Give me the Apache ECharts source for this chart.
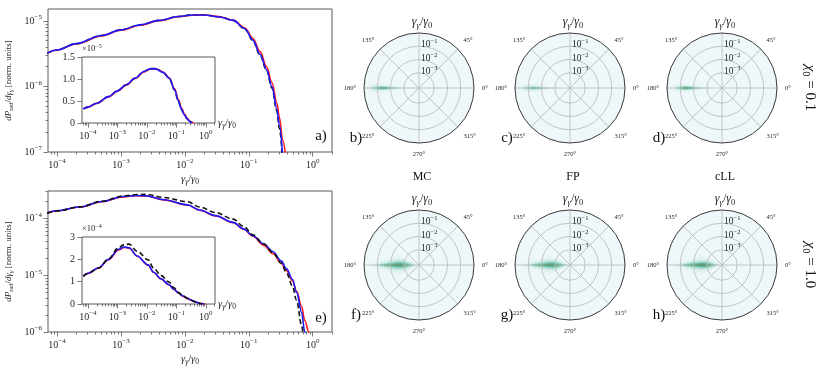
<!DOCTYPE html>
<html>
<head>
<meta charset="utf-8">
<script src="https://cdn.jsdelivr.net/npm/echarts@6/dist/echarts.min.js"></script>
<style>
  html, body { margin: 0; padding: 0; background: #fff; }
  #chart { width: 830px; height: 374px; }
</style>
</head>
<body>
<div id="chart"></div>
<script>
// ---- spectra (x = γγ/γ0) ----
const topX = [7e-5, 1e-4, 2e-4, 5e-4, 1e-3, 2e-3, 4e-3, 8e-3, 0.013, 0.02, 0.035, 0.057, 0.087, 0.116, 0.15, 0.19, 0.23, 0.275, 0.30, 0.34, 0.38];
const topBlack = [3.2e-6, 3.6e-6, 4.5e-6, 6.0e-6, 7.3e-6, 8.7e-6, 1.02e-5, 1.17e-5, 1.24e-5, 1.24e-5, 1.16e-5, 1.02e-5, 7.5e-6, 5.0e-6, 3.0e-6, 1.75e-6, 9.5e-7, 4.2e-7, 2.3e-7, 7e-8, null];
const topRed   = [3.2e-6, 3.6e-6, 4.45e-6, 5.9e-6, 7.2e-6, 8.6e-6, 1.01e-5, 1.16e-5, 1.22e-5, 1.23e-5, 1.16e-5, 1.03e-5, 7.8e-6, 5.4e-6, 3.4e-6, 2.0e-6, 1.15e-6, 5.6e-7, 3.4e-7, 1.5e-7, 8e-8];
const topBlue  = [3.2e-6, 3.6e-6, 4.5e-6, 6.0e-6, 7.3e-6, 8.7e-6, 1.02e-5, 1.17e-5, 1.23e-5, 1.23e-5, 1.15e-5, 1.02e-5, 7.6e-6, 5.1e-6, 3.1e-6, 1.8e-6, 1.0e-6, 4.5e-7, 2.6e-7, 8e-8, null];

const botX = [7e-5, 1e-4, 2.3e-4, 5e-4, 1.1e-3, 1.7e-3, 2.5e-3, 4.7e-3, 1.1e-2, 1.7e-2, 3e-2, 5.7e-2, 8.3e-2, 0.116, 0.17, 0.24, 0.32, 0.39, 0.48, 0.56, 0.67, 0.75, 0.87, 0.95];
const botBlack = [1.24e-4, 1.37e-4, 1.61e-4, 2.02e-4, 2.52e-4, 2.66e-4, 2.68e-4, 2.36e-4, 1.98e-4, 1.6e-4, 1.28e-4, 9.8e-5, 7.3e-5, 5.2e-5, 3.6e-5, 2.5e-5, 1.65e-5, 1.1e-5, 6.5e-6, 3.6e-6, 1.3e-6, 4e-7, null, null];
const botRed   = [1.25e-4, 1.37e-4, 1.6e-4, 1.98e-4, 2.42e-4, 2.53e-4, 2.5e-4, 2.14e-4, 1.74e-4, 1.41e-4, 1.12e-4, 8.5e-5, 6.5e-5, 4.9e-5, 3.4e-5, 2.4e-5, 1.65e-5, 1.2e-5, 8.0e-6, 5.2e-6, 2.8e-6, 1.6e-6, 1.0e-6, 5e-7];
const botBlue  = [1.26e-4, 1.38e-4, 1.62e-4, 2.0e-4, 2.45e-4, 2.55e-4, 2.52e-4, 2.15e-4, 1.75e-4, 1.42e-4, 1.13e-4, 8.6e-5, 6.6e-5, 5.0e-5, 3.6e-5, 2.6e-5, 1.8e-5, 1.3e-5, 8.5e-6, 5.0e-6, 2.2e-6, 1.0e-6, 4e-7, null];

// inset y scale factors (×10^-5, ×10^-4)
const topInsetExp = -5;
const botInsetExp = -4;

// ---- angular distributions: density per (energy bin, |angle offset| bin) ----
const energyEdges = [-4, -3.75, -3.5, -3.25, -3, -2.75, -2.5, -2.25, -2, -1.75, -1.5, -1.25, -1, -0.75, -0.5, -0.25, 0]; // log10(γγ/γ0)
const angleEdges = [0, 1.5, 3.5, 6.5, 10.5, 16, 24]; // degrees away from the beam direction
const beamAngle = 180;

const heatB = [
  [0, 0, 0, 0, 0, 0], [0, 0, 0, 0, 0, 0], [0.03, 0, 0, 0, 0, 0], [0.08, 0.02, 0, 0, 0, 0],
  [0.15, 0.04, 0, 0, 0, 0], [0.27, 0.08, 0, 0, 0, 0], [0.42, 0.13, 0.02, 0, 0, 0], [0.55, 0.2, 0.03, 0, 0, 0],
  [0.65, 0.27, 0.04, 0, 0, 0], [0.72, 0.32, 0.05, 0, 0, 0], [0.72, 0.34, 0.05, 0, 0, 0], [0.62, 0.3, 0.05, 0, 0, 0],
  [0.42, 0.22, 0.03, 0, 0, 0], [0.2, 0.1, 0.02, 0, 0, 0], [0.05, 0.03, 0, 0, 0, 0], [0, 0, 0, 0, 0, 0]
];
const heatC = [
  [0, 0, 0, 0, 0, 0], [0, 0, 0, 0, 0, 0], [0.02, 0, 0, 0, 0, 0], [0.05, 0.01, 0, 0, 0, 0],
  [0.1, 0.03, 0, 0, 0, 0], [0.19, 0.05, 0, 0, 0, 0], [0.3, 0.09, 0, 0, 0, 0], [0.41, 0.15, 0.02, 0, 0, 0],
  [0.5, 0.2, 0.03, 0, 0, 0], [0.55, 0.25, 0.04, 0, 0, 0], [0.55, 0.26, 0.04, 0, 0, 0], [0.48, 0.22, 0.03, 0, 0, 0],
  [0.34, 0.16, 0.02, 0, 0, 0], [0.17, 0.08, 0.01, 0, 0, 0], [0.05, 0.02, 0, 0, 0, 0], [0, 0, 0, 0, 0, 0]
];
const heatD = [
  [0, 0, 0, 0, 0, 0], [0, 0, 0, 0, 0, 0], [0, 0, 0, 0, 0, 0], [0.03, 0, 0, 0, 0, 0],
  [0.09, 0.02, 0, 0, 0, 0], [0.22, 0.06, 0, 0, 0, 0], [0.4, 0.13, 0.02, 0, 0, 0], [0.58, 0.21, 0.03, 0, 0, 0],
  [0.72, 0.29, 0.04, 0, 0, 0], [0.8, 0.35, 0.05, 0, 0, 0], [0.8, 0.36, 0.05, 0, 0, 0], [0.66, 0.3, 0.04, 0, 0, 0],
  [0.4, 0.18, 0.02, 0, 0, 0], [0.14, 0.06, 0, 0, 0, 0], [0.03, 0, 0, 0, 0, 0], [0, 0, 0, 0, 0, 0]
];
const heatF = [
  [0.25, 0.24, 0.2, 0.16, 0.1, 0.05], [0.42, 0.4, 0.34, 0.26, 0.17, 0.08], [0.6, 0.55, 0.46, 0.35, 0.22, 0.1], [0.78, 0.7, 0.57, 0.42, 0.26, 0.11],
  [0.92, 0.8, 0.62, 0.44, 0.25, 0.1], [0.97, 0.82, 0.6, 0.4, 0.2, 0.07], [0.95, 0.76, 0.5, 0.3, 0.13, 0.04], [0.88, 0.64, 0.38, 0.19, 0.07, 0.01],
  [0.78, 0.5, 0.25, 0.1, 0.03, 0], [0.62, 0.35, 0.14, 0.04, 0, 0], [0.45, 0.22, 0.07, 0.01, 0, 0], [0.28, 0.12, 0.03, 0, 0, 0],
  [0.14, 0.05, 0, 0, 0, 0], [0.05, 0.02, 0, 0, 0, 0], [0, 0, 0, 0, 0, 0], [0, 0, 0, 0, 0, 0]
];
const heatG = [
  [0.27, 0.26, 0.22, 0.17, 0.11, 0.05], [0.45, 0.43, 0.36, 0.28, 0.18, 0.08], [0.63, 0.58, 0.48, 0.37, 0.23, 0.1], [0.8, 0.72, 0.58, 0.43, 0.26, 0.11],
  [0.93, 0.81, 0.62, 0.44, 0.25, 0.09], [0.97, 0.8, 0.58, 0.38, 0.19, 0.06], [0.93, 0.73, 0.47, 0.28, 0.12, 0.03], [0.85, 0.6, 0.35, 0.17, 0.06, 0.01],
  [0.74, 0.46, 0.22, 0.09, 0.02, 0], [0.58, 0.32, 0.12, 0.03, 0, 0], [0.42, 0.2, 0.06, 0.01, 0, 0], [0.26, 0.11, 0.02, 0, 0, 0],
  [0.13, 0.05, 0, 0, 0, 0], [0.05, 0.02, 0, 0, 0, 0], [0, 0, 0, 0, 0, 0], [0, 0, 0, 0, 0, 0]
];
const heatH = [
  [0.22, 0.21, 0.17, 0.13, 0.08, 0.04], [0.4, 0.38, 0.31, 0.23, 0.14, 0.06], [0.6, 0.54, 0.44, 0.32, 0.19, 0.08], [0.8, 0.7, 0.56, 0.4, 0.23, 0.09],
  [0.95, 0.82, 0.62, 0.42, 0.22, 0.08], [1.0, 0.84, 0.6, 0.38, 0.18, 0.06], [0.97, 0.77, 0.49, 0.28, 0.11, 0.03], [0.9, 0.65, 0.37, 0.17, 0.06, 0],
  [0.8, 0.5, 0.24, 0.09, 0.02, 0], [0.64, 0.35, 0.13, 0.03, 0, 0], [0.46, 0.22, 0.06, 0, 0, 0], [0.28, 0.12, 0.02, 0, 0, 0],
  [0.13, 0.05, 0, 0, 0, 0], [0.04, 0.02, 0, 0, 0, 0], [0, 0, 0, 0, 0, 0], [0, 0, 0, 0, 0, 0]
];
const polarHeat = [heatB, heatC, heatD, heatF, heatG, heatH];
const polarModels = ['MC', 'FP', 'cLL'];
const panelLetters = ['b)', 'c)', 'd)', 'f)', 'g)', 'h)'];
const chiLabels = ['0.1', '1.0'];

// ---- look ----
const FONT = '"Liberation Serif", "DejaVu Serif", serif';
const AXIS_COLOR = '#5a5a5a';
const TEXT = '#262626';
const heatPalette = ['#eef7f9', '#cdebe4', '#99d8c9', '#66c2a4', '#41ae76', '#238b45', '#0b6b36'];
const polarCenters = [[419, 88], [570, 88], [722, 88], [419, 265], [570, 265], [722, 265]];
const POLAR_R = 55;
const ANGLE_START = 90; // angle axis starts at the top, values counted counter-clockwise

const rich = {
  n: { fontFamily: FONT, fontSize: 10, lineHeight: 14, color: TEXT, fill: TEXT },
  sup: { fontFamily: FONT, fontSize: 7, lineHeight: 8, verticalAlign: 'top', color: TEXT, fill: TEXT },
  rn: { fontFamily: FONT, fontSize: 9.5, lineHeight: 13, color: TEXT, fill: TEXT },
  rsup: { fontFamily: FONT, fontSize: 6.5, lineHeight: 7, verticalAlign: 'top', color: TEXT, fill: TEXT },
  sn: { fontFamily: FONT, fontSize: 8.5, lineHeight: 12, color: TEXT, fill: TEXT },
  ssup: { fontFamily: FONT, fontSize: 6, lineHeight: 7, verticalAlign: 'top', color: TEXT, fill: TEXT },
  gi: { fontFamily: FONT, fontSize: 10.5, fontStyle: 'italic', lineHeight: 14, color: TEXT, fill: TEXT },
  gn: { fontFamily: FONT, fontSize: 10.5, lineHeight: 14, color: TEXT, fill: TEXT },
  gs: { fontFamily: FONT, fontSize: 7.5, fontStyle: 'italic', lineHeight: 8, verticalAlign: 'bottom', color: TEXT, fill: TEXT },
  gs0: { fontFamily: FONT, fontSize: 7.5, lineHeight: 8, verticalAlign: 'bottom', color: TEXT, fill: TEXT },
  ti: { fontFamily: FONT, fontSize: 9, fontStyle: 'italic', lineHeight: 13, color: TEXT, fill: TEXT },
  tn: { fontFamily: FONT, fontSize: 9, lineHeight: 13, color: TEXT, fill: TEXT },
  ts: { fontFamily: FONT, fontSize: 6.5, lineHeight: 7, verticalAlign: 'bottom', color: TEXT, fill: TEXT },
  ts2: { fontFamily: FONT, fontSize: 6.5, fontStyle: 'italic', lineHeight: 7, verticalAlign: 'bottom', color: TEXT, fill: TEXT },
  Ti: { fontFamily: FONT, fontSize: 12, fontStyle: 'italic', lineHeight: 16, fill: TEXT },
  Tn: { fontFamily: FONT, fontSize: 12, lineHeight: 16, fill: TEXT },
  Ts: { fontFamily: FONT, fontSize: 8.5, fontStyle: 'italic', lineHeight: 9, verticalAlign: 'bottom', fill: TEXT },
  Ts0: { fontFamily: FONT, fontSize: 8.5, lineHeight: 9, verticalAlign: 'bottom', fill: TEXT },
  Ci: { fontFamily: FONT, fontSize: 15, fontStyle: 'italic', lineHeight: 20, fill: '#111' },
  Cn: { fontFamily: FONT, fontSize: 15, lineHeight: 20, fill: '#111' },
  Cs: { fontFamily: FONT, fontSize: 10.5, lineHeight: 11, verticalAlign: 'bottom', fill: '#111' }
};

const gammaName = '{gi|γ}{gs|γ}{gn|/}{gi|γ}{gs0|0}';
const gammaTitle = '{Ti|γ}{Ts|γ}{Tn|/}{Ti|γ}{Ts0|0}';
const yName = '{ti|dP}{ts|rad}{tn|/}{ti|dγ}{ts2|γ}{tn| [norm. units]}';

function powLabel(v, big) {
  const e = Math.log10(v);
  const k = Math.round(e);
  if (Math.abs(e - k) > 1e-6) return '';
  const s = k < 0 ? '−' + (-k) : String(k);
  return big ? '{n|10}{sup|' + s + '}' : '{rn|10}{rsup|' + s + '}';
}
function decades(lo, hi) {
  const out = [];
  for (let k = Math.ceil(Math.log10(lo) - 1e-9); k <= Math.floor(Math.log10(hi) + 1e-9); k++) out.push(Math.pow(10, k));
  return out;
}
function minors(lo, hi) {
  const out = [];
  for (let k = Math.floor(Math.log10(lo)); k <= Math.ceil(Math.log10(hi)); k++) {
    for (let m = 2; m <= 9; m++) {
      const v = m * Math.pow(10, k);
      if (v >= lo && v <= hi) out.push(v);
    }
  }
  return out;
}

const tickStyle = { color: AXIS_COLOR, width: 0.8 };

function logAxisPair(gridIndex, lo, hi, side, extra) {
  const major = Object.assign({
    type: 'log', gridIndex, min: lo, max: hi, position: side,
    axisLine: { show: false }, splitLine: { show: false },
    axisTick: { customValues: decades(lo, hi), length: 4.5, lineStyle: tickStyle },
    axisLabel: { customValues: decades(lo, hi), formatter: v => powLabel(v, true), rich, margin: 6 }
  }, extra || {});
  const minor = {
    type: 'log', gridIndex, min: lo, max: hi, position: side,
    axisLine: { show: false }, splitLine: { show: false },
    axisTick: { customValues: minors(lo, hi), length: 2.5, lineStyle: tickStyle },
    axisLabel: { show: false }
  };
  return [major, minor];
}

const gridStyle = { show: true, borderColor: AXIS_COLOR, borderWidth: 1, backgroundColor: 'transparent', outerBoundsMode: 'none' };
const grids = [
  Object.assign({ left: 48, top: 9, width: 284, height: 143 }, gridStyle),
  Object.assign({ left: 82, top: 57, width: 133, height: 66 }, gridStyle),
  Object.assign({ left: 48, top: 191, width: 284, height: 141 }, gridStyle),
  Object.assign({ left: 82, top: 237, width: 133, height: 67 }, gridStyle)
];

const mainX = [Math.pow(10, -4.14), 2.0];
const insetX = [Math.pow(10, -4.2), Math.pow(10, 0.31)];

const mainXName = { name: gammaName, nameLocation: 'middle', nameGap: 20, nameTextStyle: { rich } };
const insetXName = { name: gammaName, nameLocation: 'end', nameGap: 3, nameTextStyle: { rich } };

const xAxes = [].concat(
  logAxisPair(0, mainX[0], mainX[1], 'bottom', mainXName),
  logAxisPair(1, insetX[0], insetX[1], 'bottom', insetXName),
  logAxisPair(2, mainX[0], mainX[1], 'bottom', mainXName),
  logAxisPair(3, insetX[0], insetX[1], 'bottom', insetXName)
);

const mainYName = { name: yName, nameLocation: 'middle', nameRotate: 90, nameGap: 33, nameTextStyle: { rich } };
function insetY(gridIndex, maxV, step, exp) {
  return {
    type: 'value', gridIndex, min: 0, max: maxV, interval: step, position: 'left',
    axisLine: { show: false }, splitLine: { show: false },
    axisTick: { length: 4.5, lineStyle: tickStyle },
    axisLabel: { fontFamily: FONT, fontSize: 10, color: TEXT, margin: 7,
      formatter: v => (v === 0 ? '0' : (step < 1 ? v.toFixed(1) : String(v))) },
    name: '{sn|×10}{ssup|−' + (-exp) + '}', nameLocation: 'end', nameGap: 2,
    nameTextStyle: { rich, align: 'left', verticalAlign: 'bottom' }
  };
}
const yAxes = [].concat(
  logAxisPair(0, 1e-7, 1.52e-5, 'left', mainYName),
  [insetY(1, 1.5, 0.5, topInsetExp)],
  logAxisPair(2, 1e-6, 3.07e-4, 'left', mainYName),
  [insetY(3, 3, 1, botInsetExp)]
);

function pairs(xs, ys, scale) {
  return xs.map((x, i) => [x, ys[i] == null ? null : ys[i] * (scale || 1)]);
}
function lineSeries(xi, yi, data, color, dashed) {
  return {
    type: 'line', xAxisIndex: xi, yAxisIndex: yi, data,
    showSymbol: false, smooth: 0.35, smoothMonotone: 'x', clip: true, connectNulls: false,
    lineStyle: { color, width: 1.6, type: dashed ? [5, 3] : 'solid' },
    z: 3, silent: true
  };
}

const series = [];
// top main + inset
series.push(lineSeries(0, 0, pairs(topX, topBlack), '#111', true));
series.push(lineSeries(0, 0, pairs(topX, topRed), '#ff1a1a'));
series.push(lineSeries(0, 0, pairs(topX, topBlue), '#1a1aff'));
series.push(lineSeries(2, 2, pairs(topX, topBlack, Math.pow(10, -topInsetExp)), '#111', true));
series.push(lineSeries(2, 2, pairs(topX, topRed, Math.pow(10, -topInsetExp)), '#ff1a1a'));
series.push(lineSeries(2, 2, pairs(topX, topBlue, Math.pow(10, -topInsetExp)), '#1a1aff'));
// bottom main + inset
series.push(lineSeries(4, 3, pairs(botX, botRed), '#ff1a1a'));
series.push(lineSeries(4, 3, pairs(botX, botBlue), '#1a1aff'));
series.push(lineSeries(4, 3, pairs(botX, botBlack), '#111', true));
series.push(lineSeries(6, 5, pairs(botX, botRed, Math.pow(10, -botInsetExp)), '#ff1a1a'));
series.push(lineSeries(6, 5, pairs(botX, botBlue, Math.pow(10, -botInsetExp)), '#1a1aff'));
series.push(lineSeries(6, 5, pairs(botX, botBlack, Math.pow(10, -botInsetExp)), '#111', true));

// polar panels
function heatItems(grid) {
  const items = [];
  for (let i = 0; i < grid.length; i++) {
    for (let j = 0; j < grid[i].length; j++) {
      const d = grid[i][j];
      if (!d) continue;
      const rLo = Math.pow(10, energyEdges[i]);
      const rHi = Math.pow(10, energyEdges[i + 1]);
      // both sides of the beam direction
      items.push([rLo, rHi, beamAngle + angleEdges[j] - ANGLE_START, beamAngle + angleEdges[j + 1] - ANGLE_START, d]);
      items.push([rLo, rHi, beamAngle - angleEdges[j + 1] - ANGLE_START, beamAngle - angleEdges[j] - ANGLE_START, d]);
    }
  }
  return items;
}
function renderCell(params, api) {
  const cs = params.coordSys;
  const pIn = api.coord([api.value(0), api.value(2)]);
  const pA = api.coord([api.value(1), api.value(2)]);
  const pB = api.coord([api.value(1), api.value(3)]);
  const r0 = Math.hypot(pIn[0] - cs.cx, pIn[1] - cs.cy);
  const r = Math.hypot(pA[0] - cs.cx, pA[1] - cs.cy);
  let a1 = Math.atan2(pA[1] - cs.cy, pA[0] - cs.cx);
  const a2 = Math.atan2(pB[1] - cs.cy, pB[0] - cs.cx);
  if (a1 < a2) a1 += 2 * Math.PI;
  const c = api.visual('color');
  return {
    type: 'sector',
    shape: { cx: cs.cx, cy: cs.cy, r0, r, startAngle: a2, endAngle: a1, clockwise: true },
    style: { fill: c, stroke: c, lineWidth: 0.4 }
  };
}

const polars = [], angleAxes = [], radiusAxes = [], heatIdx = [];
polarCenters.forEach((c, i) => {
  polars.push({ center: c, radius: POLAR_R });
  angleAxes.push({
    polarIndex: i, type: 'value', min: 0, max: 360, interval: 45,
    startAngle: ANGLE_START, clockwise: false, z: 4,
    axisLine: { lineStyle: { color: '#3a3a3a', width: 1 } },
    axisTick: { show: false },
    axisLabel: { fontFamily: FONT, fontSize: 6.5, color: TEXT, margin: 8,
      formatter: v => { const a = (v + ANGLE_START) % 360; return a === 90 ? '' : a + '°'; } },
    splitLine: { lineStyle: { color: '#b8b8b8', width: 0.8 } },
    splitArea: { show: false }
  });
  radiusAxes.push({
    polarIndex: i, type: 'log', min: Math.pow(10, -4.15), max: 1, z: 4,
    axisLine: { show: false },
    axisTick: { show: false, customValues: [1e-3, 1e-2, 1e-1] },
    axisLabel: { customValues: [1e-3, 1e-2, 1e-1], formatter: v => powLabel(v, false), rich,
      margin: -2, align: 'left', verticalAlign: 'middle', padding: [0, 0, 3, 0] },
    splitLine: { show: true, lineStyle: { color: '#b8b8b8', width: 0.8 } }
  });
  series.push({
    type: 'custom', coordinateSystem: 'polar', polarIndex: i, silent: true, z: 1,
    data: [[1, 0]],
    renderItem: (params) => ({
      type: 'circle',
      shape: { cx: params.coordSys.cx, cy: params.coordSys.cy, r: params.coordSys.r },
      style: { fill: heatPalette[0] }
    })
  });
  heatIdx.push(series.length);
  series.push({
    type: 'custom', coordinateSystem: 'polar', polarIndex: i, silent: true, z: 2,
    encode: { radius: [0, 1], angle: [2, 3] },
    data: heatItems(polarHeat[i]),
    renderItem: renderCell
  });
});

// text around the panels
const graphic = [];
function txt(x, y, text, extra) {
  graphic.push(Object.assign({
    type: 'text', x, y, silent: true,
    style: { text, rich, fontFamily: FONT, fontSize: 15, fill: '#111', align: 'center', verticalAlign: 'middle' }
  }, extra || {}));
}
txt(321, 136, 'a)');
txt(321, 318, 'e)');
polarCenters.forEach((c, i) => {
  txt(c[0] - 63, c[1] + 50, panelLetters[i]);
  txt(c[0] + 3, c[1] - 66, gammaTitle);
});
polarModels.forEach((m, i) => txt(polarCenters[i][0] + 3, 177, m, { style: { text: m, fontFamily: FONT, fontSize: 12, fill: '#111', align: 'center', verticalAlign: 'middle' } }));
chiLabels.forEach((v, i) => txt(810, polarCenters[i * 3][1], '{Ci|χ}{Cs|0}{Cn| = ' + v + '}', { rotation: -Math.PI / 2 }));

const chart = echarts.init(document.getElementById('chart'), null, { renderer: 'canvas' });
chart.setOption({
  animation: false,
  backgroundColor: '#fff',
  grid: grids,
  xAxis: xAxes,
  yAxis: yAxes,
  polar: polars,
  angleAxis: angleAxes,
  radiusAxis: radiusAxes,
  visualMap: {
    type: 'continuous', show: false, seriesIndex: heatIdx, dimension: 4,
    min: 0, max: 1, inRange: { color: heatPalette }
  },
  graphic,
  series
});
</script>
</body>
</html>
